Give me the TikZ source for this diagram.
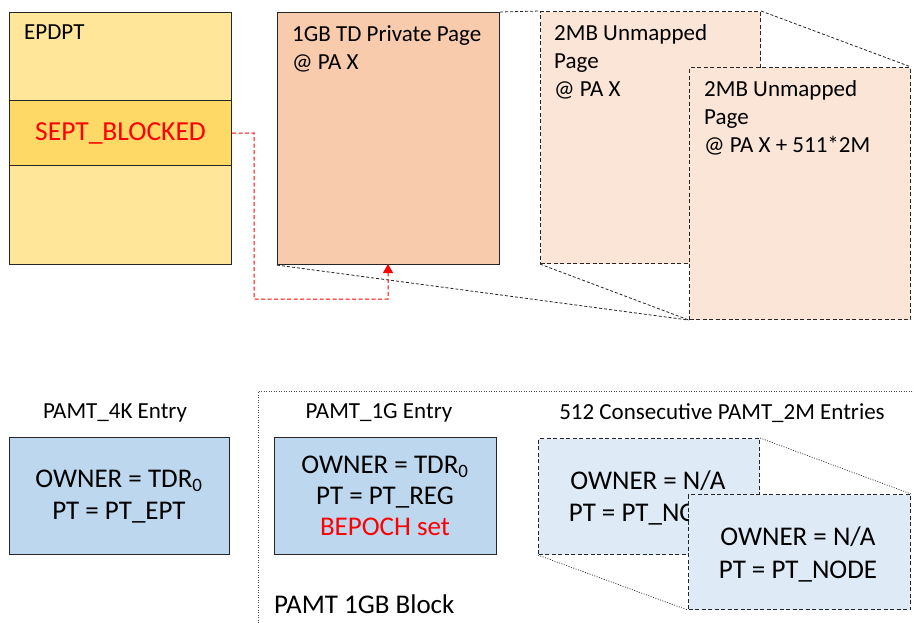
\documentclass[tikz,border=0pt]{standalone}
\usepackage{fontspec}
\setmainfont{Carlito}
\usetikzlibrary{arrows.meta}
\definecolor{epd}{HTML}{FFE699}
\definecolor{epdband}{HTML}{FFD966}
\definecolor{gbpage}{HTML}{F8CBAD}
\definecolor{mbpage}{HTML}{FBE5D6}
\definecolor{pamt}{HTML}{BDD7EE}
\definecolor{pamtlt}{HTML}{DEEBF7}
\definecolor{edge}{HTML}{262626}
\tikzset{
  box/.style={draw=edge, line width=1.1pt, inner sep=0pt, anchor=north west},
  dbox/.style={box, dash pattern=on 4pt off 2.5pt},
  conn/.style={draw=edge, line width=0.8pt, dash pattern=on 3pt off 2pt},
  dotconn/.style={draw=edge, line width=0.7pt, dash pattern=on 1pt off 1.5pt},
  sep/.style={draw=black!70, line width=0.7pt, dash pattern=on 1pt off 1.5pt},
  toptxt/.style={anchor=north west, inner sep=0pt, align=left, font=\fontsize{23}{27.8}\selectfont},
  lbl/.style={inner sep=0pt, font=\fontsize{23}{27}\selectfont},
  entry/.style={inner sep=0pt, align=center, font=\fontsize{27}{32}\selectfont},
}
\begin{document}
\begin{tikzpicture}[x=1pt,y=-1pt]
\useasboundingbox (0,0) rectangle (914,623);
% EPDPT
\node[box, fill=epd, minimum width=222pt, minimum height=252pt] (epdpt) at (9,12) {};
\node[box, fill=epdband, minimum width=222pt, minimum height=65pt] (band) at (9,100) {};
\node[toptxt] (epdptt) at (24,25) {EPDPT};
\node[inner sep=0pt, text=red, font=\fontsize{27.5}{32}\selectfont] (sept) at (band.center) {SEPT\_BLOCKED};
% 1GB page
\node[box, fill=gbpage, minimum width=222pt, minimum height=252pt] (gb) at (277,12) {};
\node[toptxt] (gbt) at (292,25.5) {1GB TD Private Page\\@ PA X};
% 2MB pages
\node[dbox, fill=mbpage, minimum width=220pt, minimum height=252pt] (mb1) at (540,11) {};
\node[toptxt] (mb1t) at (554,24.5) {2MB Unmapped\\Page\\@ PA X};
\node[dbox, fill=mbpage, minimum width=221pt, minimum height=252pt] (mb2) at (689,67) {};
\node[toptxt] (mb2t) at (704,80.5) {2MB Unmapped\\Page\\@ PA X + 511*2M};
% connecting lines
\draw[conn] (gb.north east) -- (mb1.north west);
\draw[conn] (mb1.north east) -- (mb2.north east);
\draw[conn] (gb.south west) -- (mb2.south west);
\draw[conn] (mb1.south west) -- (mb2.south west);
% red arrow
\coordinate (a1) at (254,133);
\coordinate (a2) at (254,299);
\coordinate (a3) at (388,299);
\coordinate (a4) at (388,264);
\draw[red, line width=1pt, dash pattern=on 4pt off 2.5pt, -{Triangle[length=9pt,width=10pt]}]
  (band.east) -- (a1) -- (a2) -- (a3) -- (a4);
% separator
\coordinate (s1) at (258,623);
\coordinate (s2) at (258,391);
\coordinate (s3) at (914,391);
\draw[sep] (s1) -- (s2) -- (s3);
% PAMT labels
\node[lbl] (l4k) at (115,413) {PAMT\_4K Entry};
\node[lbl] (l1g) at (379,413) {PAMT\_1G Entry};
\node[lbl] (l2m) at (722,413) {512 Consecutive PAMT\_2M Entries};
% PAMT boxes
\node[box, fill=pamt, minimum width=220pt, minimum height=117pt] (p4k) at (9,437) {};
\node[entry] (p4kt) at (119,497) {OWNER = TDR\textsubscript{0}\\PT = PT\_EPT};
\node[box, fill=pamt, minimum width=222pt, minimum height=117pt] (p1g) at (274,437) {};
\node[entry, font=\fontsize{27}{31}\selectfont] (p1gt) at (385,496) {OWNER = TDR\textsubscript{0}\\PT = PT\_REG\\\textcolor{red}{BEPOCH set}};
\node[dbox, fill=pamtlt, minimum width=221pt, minimum height=116pt] (p2m1) at (538,438) {};
\node[entry] (p2m1t) at (648,498) {OWNER = N/A\\PT = PT\_NODE};
\node[dbox, fill=pamtlt, minimum width=222pt, minimum height=115pt] (p2m2) at (688,494) {};
\node[entry, font=\fontsize{27}{33}\selectfont] (p2m2t) at (798,554.5) {OWNER = N/A\\PT = PT\_NODE};
\draw[dotconn] (p2m1.north east) -- (p2m2.north east);
\draw[dotconn] (p2m1.south west) -- (p2m2.south west);
\node[lbl, anchor=west, font=\fontsize{27}{32}\selectfont] (blk) at (274,604) {PAMT 1GB Block};
\end{tikzpicture}
\end{document}
